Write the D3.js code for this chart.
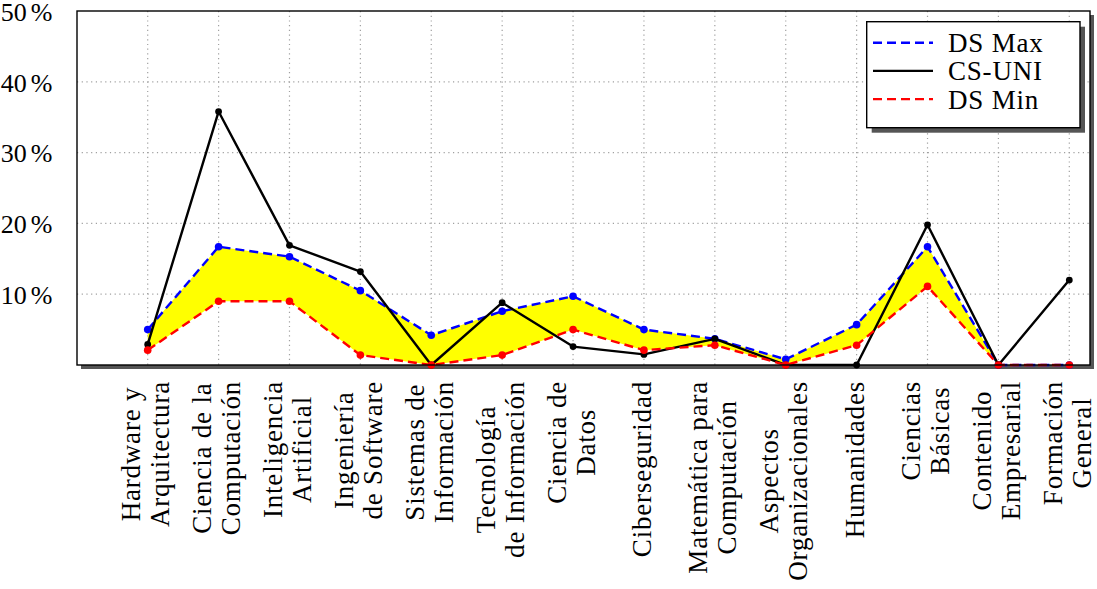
<!DOCTYPE html>
<html>
<head>
<meta charset="utf-8">
<script src="https://cdn.jsdelivr.net/npm/d3@7"></script>
<style>
  body { margin: 0; background: #fff; }
  text { font-family: "Liberation Serif", "DejaVu Serif", serif; fill: #000; }
</style>
</head>
<body>
<div id="chart"></div>
<script>
// categories (each one is split over the lines it is written on)
var categories = [
    ["Hardware y", "Arquitectura"],
    ["Ciencia de la", "Computación"],
    ["Inteligencia", "Artificial"],
    ["Ingeniería", "de Software"],
    ["Sistemas de", "Información"],
    ["Tecnología", "de Información"],
    ["Ciencia de", "Datos"],
    ["Ciberseguridad"],
    ["Matemática para", "Computación"],
    ["Aspectos", "Organizacionales"],
    ["Humanidades"],
    ["Ciencias", "Básicas"],
    ["Contenido", "Empresarial"],
    ["Formación", "General"]
];

var dsMax = [5.0, 16.7, 15.3, 10.5, 4.2, 7.6, 9.7, 5.0, 3.7, 0.8, 5.7, 16.7, 0, 0];
var csUni = [2.9, 35.8, 16.9, 13.2, 0, 8.8, 2.6, 1.5, 3.7, 0, 0, 19.8, 0, 12.0];
var dsMin = [2.1, 9.0, 9.0, 1.4, 0, 1.4, 5.0, 2.1, 2.8, 0, 2.8, 11.1, 0, 0];

var yTicks = [10, 20, 30, 40, 50];

var series = [
    {name: "DS Max", values: dsMax, color: "#0000ff", dash: "9,5", r: 3.8},
    {name: "CS-UNI", values: csUni, color: "#000000", dash: null, r: 3.4},
    {name: "DS Min", values: dsMin, color: "#ff0000", dash: "9,5", r: 3.8}
];

var W = 1097, H = 589;
var box = {left: 77, right: 1090, top: 11, bottom: 365};

var svg = d3.select("#chart").append("svg")
    .attr("width", W)
    .attr("height", H);

var idx = d3.range(categories.length);

var xScale = d3.scalePoint()
    .domain(idx)
    .range([147.7, 1069.3]);

var yScale = d3.scaleLinear()
    .domain([0, 50])
    .range([box.bottom, box.top]);

// shadow + frame background
svg.append("rect")
    .attr("x", box.left + 4).attr("y", box.top + 4)
    .attr("width", box.right - box.left).attr("height", box.bottom - box.top)
    .attr("fill", "#555");
svg.append("rect")
    .attr("x", box.left).attr("y", box.top)
    .attr("width", box.right - box.left).attr("height", box.bottom - box.top)
    .attr("fill", "#fff");

// dotted grid
var grid = svg.append("g")
    .attr("stroke", "#a0a0a0")
    .attr("stroke-width", 1.2)
    .attr("stroke-dasharray", "1.2,3.5");
grid.selectAll("line.v").data(idx).join("line")
    .attr("class", "v")
    .attr("x1", function(d) { return xScale(d); })
    .attr("x2", function(d) { return xScale(d); })
    .attr("y1", box.top).attr("y2", box.bottom);
grid.selectAll("line.h").data(yTicks.slice(0, -1)).join("line")
    .attr("class", "h")
    .attr("x1", box.left).attr("x2", box.right)
    .attr("y1", function(d) { return yScale(d); })
    .attr("y2", function(d) { return yScale(d); });

// yellow band between max and min
var area = d3.area()
    .x(function(d) { return xScale(d); })
    .y0(function(d) { return yScale(dsMin[d]); })
    .y1(function(d) { return yScale(dsMax[d]); });
svg.append("path")
    .datum(idx)
    .attr("d", area)
    .attr("fill", "#ffff00");

// lines + markers
var line = d3.line()
    .x(function(d, i) { return xScale(i); })
    .y(function(d) { return yScale(d); });

series.forEach(function(s) {
    svg.append("path")
        .datum(s.values)
        .attr("d", line)
        .attr("fill", "none")
        .attr("stroke", s.color)
        .attr("stroke-width", 2.4)
        .attr("stroke-linejoin", "round")
        .attr("stroke-dasharray", s.dash);
    svg.append("g").selectAll("circle").data(s.values).join("circle")
        .attr("cx", function(d, i) { return xScale(i); })
        .attr("cy", function(d) { return yScale(d); })
        .attr("r", s.r)
        .attr("fill", s.color);
});

// frame on top
svg.append("rect")
    .attr("x", box.left).attr("y", box.top)
    .attr("width", box.right - box.left).attr("height", box.bottom - box.top)
    .attr("fill", "none")
    .attr("stroke", "#000")
    .attr("stroke-width", 1.4);

// y tick labels ("50 %" with a thin gap before the sign)
var yLab = svg.append("g").selectAll("text").data(yTicks).join("text")
    .attr("x", 52.5)
    .attr("y", function(d) { return yScale(d) + 9.7; })
    .attr("text-anchor", "end")
    .attr("font-size", 26);
yLab.append("tspan").text(function(d) { return d; });
yLab.append("tspan").attr("dx", 4).text("%");

// rotated x labels, lines centred, block hung from the axis
var xLab = svg.append("g").selectAll("g").data(idx).join("g")
    .attr("transform", function(d) { return "translate(" + xScale(d) + ",381) rotate(-90)"; });

xLab.each(function(d) {
    var g = d3.select(this);
    var lines = categories[d];
    var n = lines.length;
    var texts = g.selectAll("text").data(lines).join("text")
        .attr("font-size", 27)
        .attr("letter-spacing", 0.8)
        .attr("text-anchor", "middle")
        .attr("y", function(t, i) { return (i - (n - 1) / 2) * 29 + 7; })
        .text(function(t) { return t; });
    var maxW = d3.max(texts.nodes(), function(nd) { return nd.getComputedTextLength(); });
    texts.attr("x", -maxW / 2);
});

// legend
var leg = svg.append("g");
var lx = 866.7, ly = 21.7, lw = 213.3, lh = 106;
leg.append("rect")
    .attr("x", lx + 5).attr("y", ly + 5)
    .attr("width", lw).attr("height", lh)
    .attr("fill", "#555");
leg.append("rect")
    .attr("x", lx).attr("y", ly)
    .attr("width", lw).attr("height", lh)
    .attr("fill", "#fff")
    .attr("stroke", "#000")
    .attr("stroke-width", 1.4);

var rows = leg.selectAll("g.row").data(series).join("g")
    .attr("class", "row")
    .attr("transform", function(d, i) { return "translate(0," + (42.7 + i * 28.2) + ")"; });
rows.append("line")
    .attr("x1", 873).attr("x2", 933)
    .attr("stroke", function(d) { return d.color; })
    .attr("stroke-width", 2.4)
    .attr("stroke-dasharray", function(d) { return d.dash; });
rows.append("text")
    .attr("x", 948)
    .attr("y", 9.5)
    .attr("font-size", 27)
    .attr("letter-spacing", 0.8)
    .text(function(d) { return d.name; });
</script>
</body>
</html>
